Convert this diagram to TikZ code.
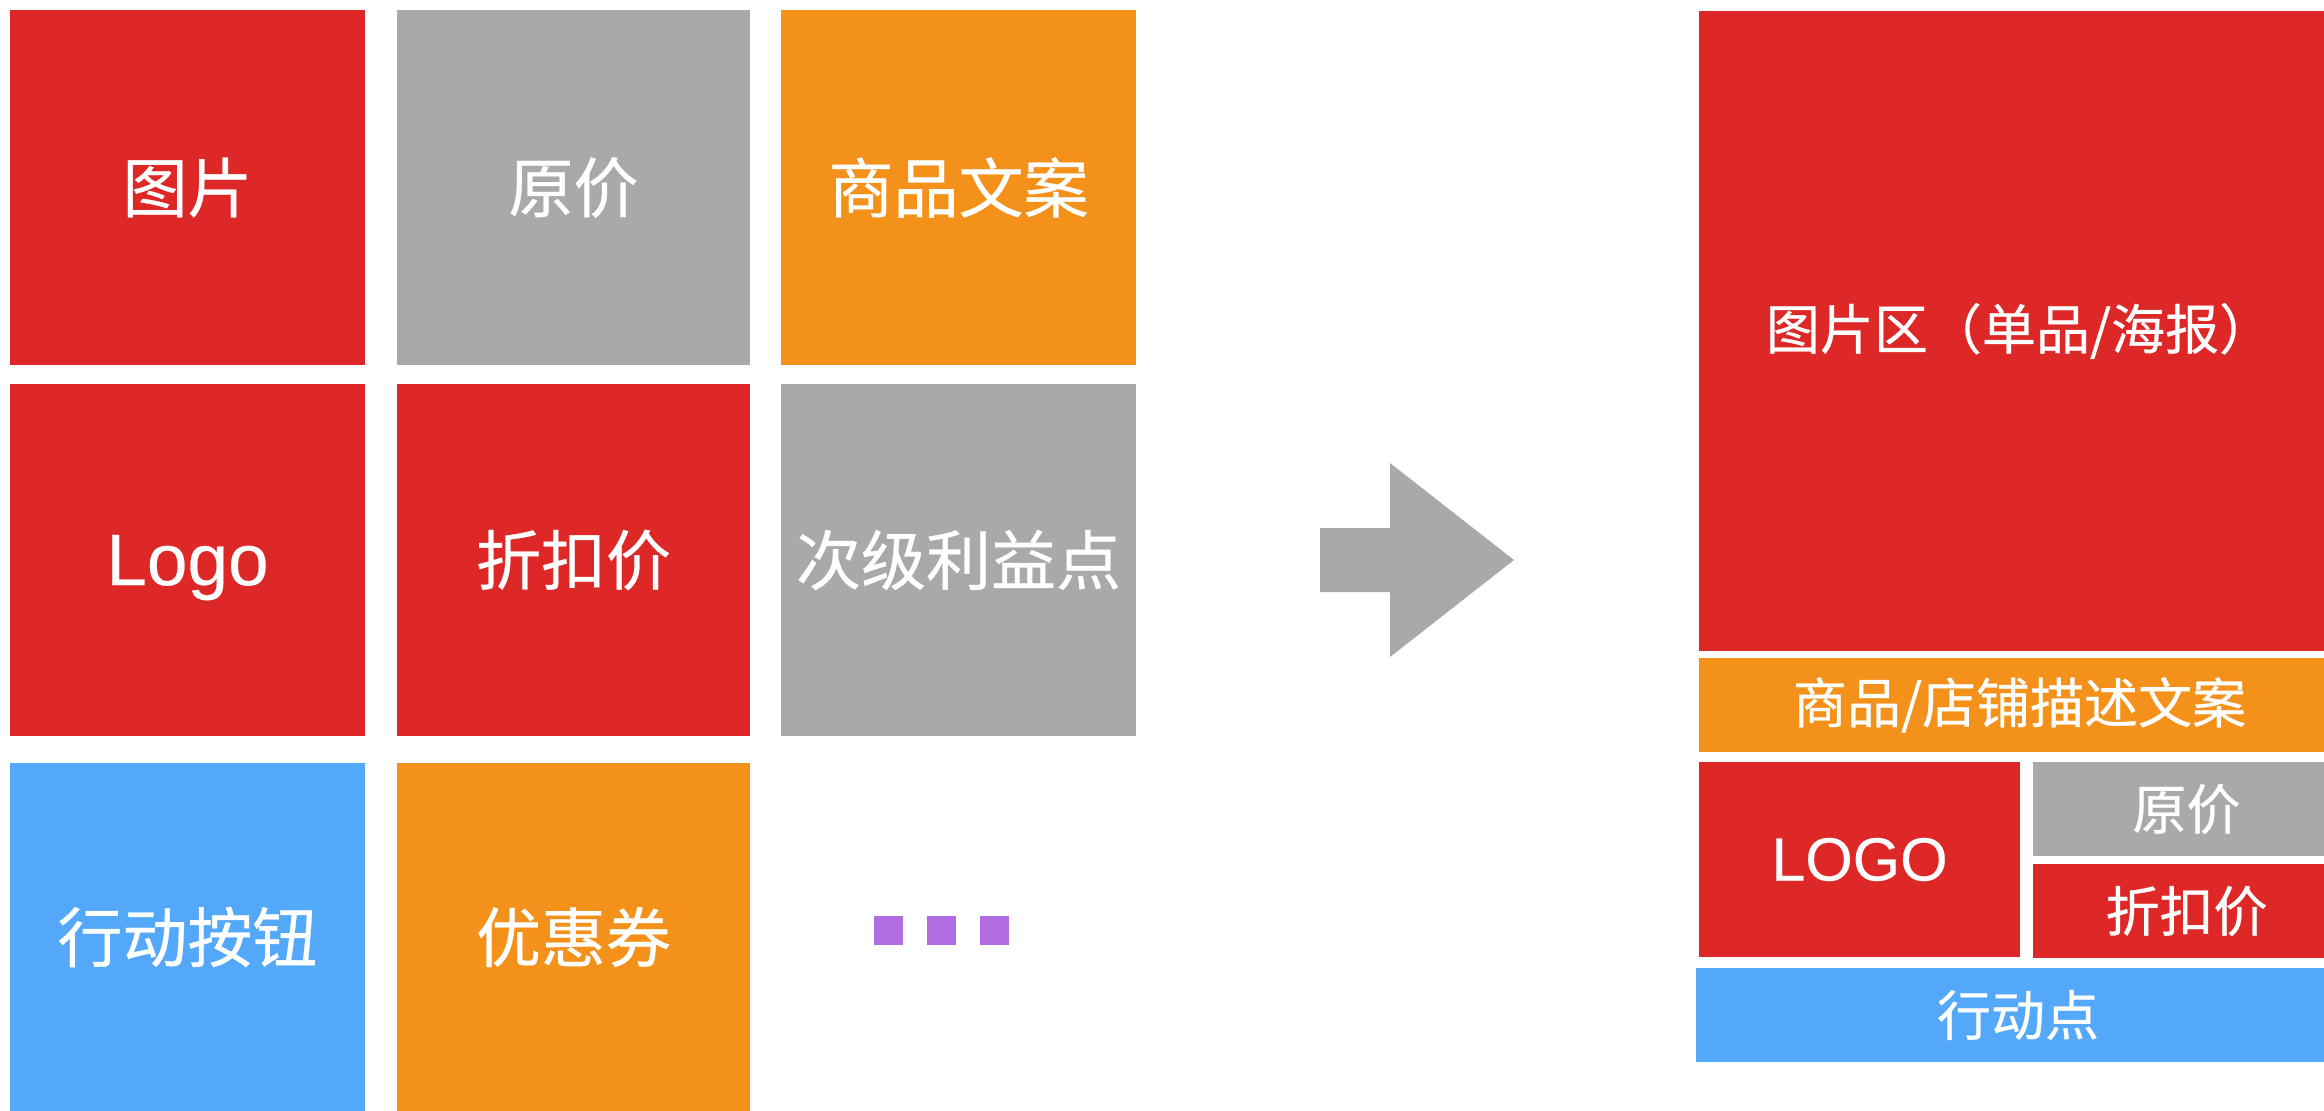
\documentclass[tikz,border=0pt]{standalone}
\usepackage{fontspec}
\newfontfamily\cjk[FakeBold=0.5]{Noto Sans CJK SC}
\newfontfamily\lat[FakeBold=0.3]{Liberation Sans}
\definecolor{cred}{HTML}{DD2827}
\definecolor{cgray}{HTML}{A8AAA9}
\definecolor{corange}{HTML}{F3911B}
\definecolor{cblue}{HTML}{53A8F9}
\definecolor{cpurple}{HTML}{B06CE0}
\tikzset{
  tile/.style={inner sep=0pt, outer sep=0pt, text=white, align=center},
  bigtext/.style={font=\cjk\fontsize{65}{70}\selectfont},
  smalltext/.style={font=\cjk\fontsize{54}{60}\selectfont},
  dotsq/.style={fill=cpurple, inner sep=0pt, outer sep=0pt, minimum width=29pt, minimum height=29pt},
}
\begin{document}
\begin{tikzpicture}[x=1pt,y=-1pt]
\useasboundingbox (0,0) rectangle (2324,1111);
\clip (0,0) rectangle (2324,1111);
% left grid
\node[tile,bigtext,fill=cred,minimum width=355pt,minimum height=355pt] (a) at (187.5,187.5) {图片};
\node[tile,bigtext,fill=cgray,minimum width=353pt,minimum height=355pt] (b) at (573.5,187.5) {原价};
\node[tile,bigtext,fill=corange,minimum width=355pt,minimum height=355pt] (c) at (958.5,187.5) {商品文案};
\node[tile,font=\lat\fontsize{73}{80}\selectfont,text depth=0pt,fill=cred,minimum width=355pt,minimum height=352pt] (d) at (187.5,560) {Logo};
\node[tile,bigtext,fill=cred,minimum width=353pt,minimum height=352pt] (e) at (573.5,560) {折扣价};
\node[tile,bigtext,fill=cgray,minimum width=355pt,minimum height=352pt] (f) at (958.5,560) {次级利益点};
\node[tile,bigtext,fill=cblue,minimum width=355pt,minimum height=348pt] (g) at (187.5,937) {行动按钮};
\node[tile,bigtext,fill=corange,minimum width=353pt,minimum height=348pt] (h) at (573.5,937) {优惠券};
\node[dotsq] (d1) at (888,930) {};
\node[dotsq] (d2) at (941,930) {};
\node[dotsq] (d3) at (994,930) {};
% arrow
\fill[cgray] (1320,528) -- (1390,528) -- (1390,463) -- (1514,560) -- (1390,657) -- (1390,592) -- (1320,592) -- cycle;
% right layout
\node[tile,smalltext,fill=cred,minimum width=641pt,minimum height=640pt] (r1) at (2019.5,331) {图片区（单品/海报）};
\node[tile,smalltext,fill=corange,minimum width=641pt,minimum height=94pt] (r2) at (2019.5,705) {商品/店铺描述文案};
\node[tile,font=\lat\fontsize{61}{66}\selectfont,fill=cred,minimum width=321pt,minimum height=195pt] (r3) at (1859.5,859.5) {LOGO};
\node[tile,smalltext,fill=cgray,minimum width=307pt,minimum height=94pt] (r4) at (2186.5,809) {原价};
\node[tile,smalltext,fill=cred,minimum width=307pt,minimum height=94pt] (r5) at (2186.5,911) {折扣价};
\node[tile,smalltext,fill=cblue,minimum width=644pt,minimum height=94pt] (r6) at (2018,1015) {行动点};
\end{tikzpicture}
\end{document}
